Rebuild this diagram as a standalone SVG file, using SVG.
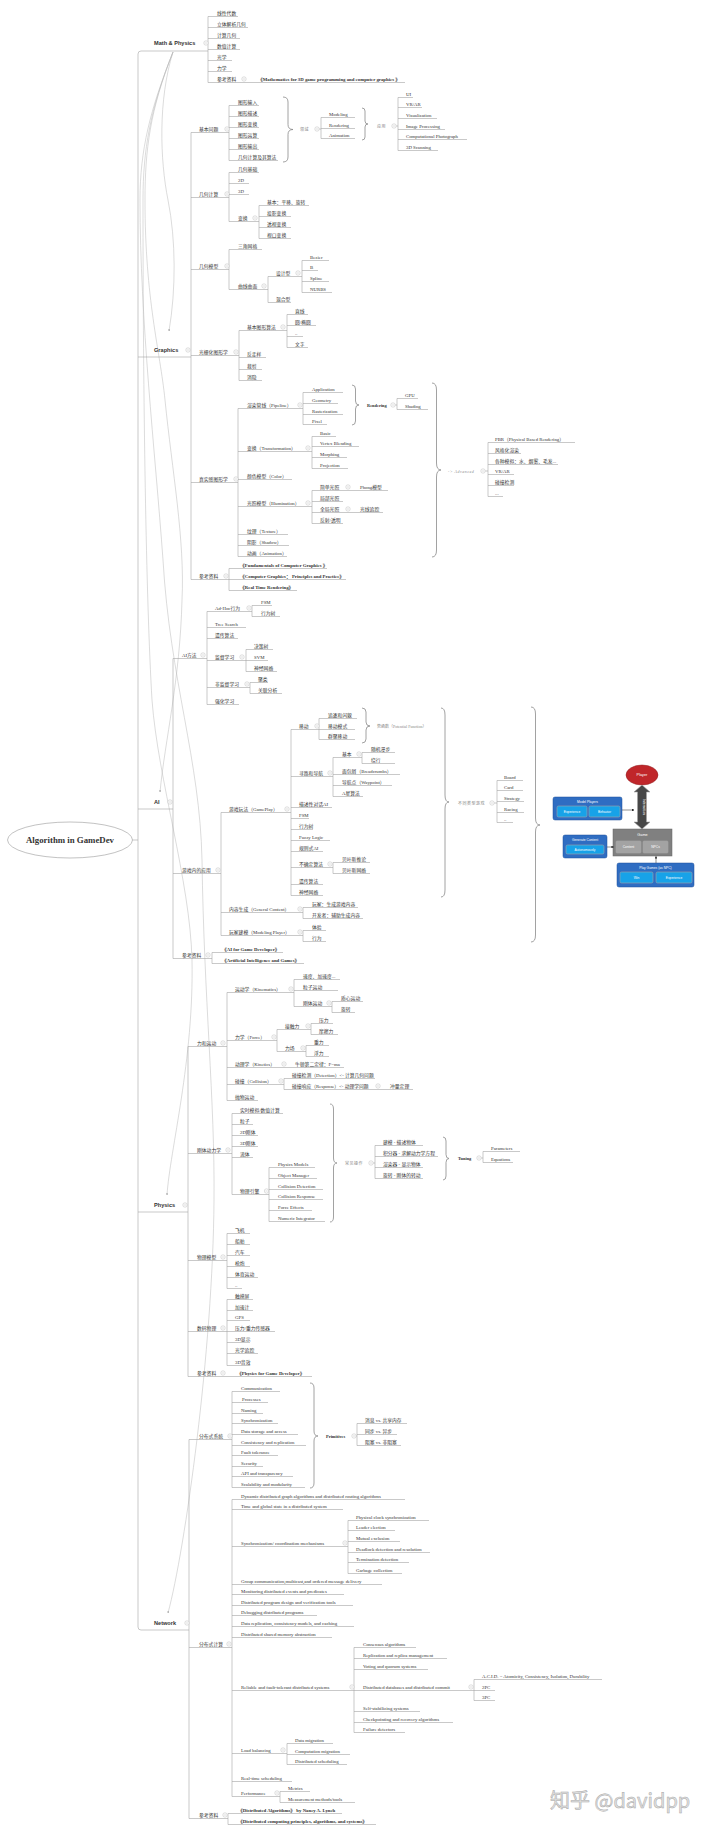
<svg xmlns="http://www.w3.org/2000/svg" xmlns:xlink="http://www.w3.org/1999/xlink" width="720" height="1833" viewBox="0 0 720 1833">
<style>
.l{fill:none;stroke:#a5a5a5;stroke-width:.6}
.br{fill:none;stroke:#8a8a8a;stroke-width:.8}
.rel{fill:none;stroke:#b8b8b8;stroke-width:.5}
text{font-family:"Liberation Serif","Noto Sans CJK SC",serif;font-size:4.8px;fill:#333;stroke:none}
.m{font-family:"Liberation Sans","Noto Sans CJK SC",sans-serif;font-weight:bold;font-size:5.6px;fill:#333}
.k{font-weight:bold}
.s{fill:#888;font-size:4px;letter-spacing:.5px}
.d{font-weight:bold;font-size:4.4px}
.w{font-family:"Liberation Sans",sans-serif;fill:#fff;font-size:3.3px;text-anchor:middle}
.bx{fill:#2f6dc2;stroke:#1d4f98;stroke-width:.5}
.ib{fill:#17a2e8}
.gb{fill:#a3a3a3}
</style>
<defs>
<g id="c"><circle r="2.2" fill="#fff" stroke="#bdbdbd" stroke-width=".5"/><path d="M-1.1,0H1.1" stroke="#bdbdbd" stroke-width=".5"/></g>
<marker id="ar" viewBox="0 0 6 6" refX="5" refY="3" markerWidth="4" markerHeight="4" orient="auto"><polygon points="0,0 6,3 0,6" fill="#999"/></marker>
<marker id="ab" viewBox="0 0 6 6" refX="5" refY="3" markerWidth="5" markerHeight="5" orient="auto"><polygon points="0,0 6,3 0,6" fill="#222"/></marker>
</defs>
<rect width="720" height="1833" fill="#fff"/>

<!-- relationship lines -->
<g id="relations" class="rel">
<path d="M173,52 C158,100 160,160 168,200 S176,290 169,331" marker-end="url(#ar)"/>
<path d="M173,52 C150,110 145,150 145,200 C145,300 160,350 165,400 C172,470 185,540 182,600 C180,680 165,740 160,792" marker-end="url(#ar)"/>
<path d="M173,52 C150,110 143,150 143,200 C143,400 146,600 152,700 C158,780 190,880 192,960 C194,1060 170,1150 167,1195" marker-end="url(#ar)"/>
<path d="M173,52 C150,110 140,150 140,200 C140,320 155,450 163,560 C170,680 200,760 202,860 C204,1000 215,1100 214,1200 C213,1350 185,1550 168,1613" marker-end="url(#ar)"/>
</g>

<!-- connectors -->
<g id="connectors" class="l">
<path d="M132,840H138 M141,51Q138,51 138,54V1627Q138,1630 141,1630H189 M141,51H208 M138,357H191 M138,809H173 M138,1212H188"/>
<path d="M208,16.5V82.5"/>
<path d="M191,132.5V579.5 M229,105.5V160.5 M319.2,129H321 M321,117.5V138.5 M396.2,126H398 M398,97.5V150.5 M229,172.5V221.5 M259,205.5V238.5 M229,249.5V289.5 M268,276.5V302.5 M302,260.5V292.5 M239,330.5V380.5 M287,314.5V347.5 M238,408.5V556.5 M303,392.5V424.5 M395.2,405H397 M397,398.5V409.5 M312,436.5V468.5 M312,490.5V523.5 M485.2,471H488 M488,442.5V496.5 M229,568.5V590.5"/>
<path d="M173,658.5V958.5 M207,611.5V704.5 M252,605.5V616.5 M246,649.5V671.5 M250,682.5V693.5 M221,812.5V935.5 M291,729.5V895.5 M319,718.5V739.5 M333,757.5V796.5 M362,752.5V763.5 M333,862.5V873.5 M303,907.5V918.5 M303,930.5V941.5 M494.2,803H497 M497,780.5V822.5 M212,952.5V963.5"/>
<path d="M188,1046.5V1376.5 M227,992.5V1100.5 M294,979.5V1006.5 M332,1001.5V1012.5 M277,1029.5V1051.5 M311,1023.5V1034.5 M306,1045.5V1056.5 M284,1078.5V1089.5 M232,1113.5V1194.5 M269,1167.5V1221.5 M373.2,1163H375 M375,1145.5V1178.5 M481.2,1158H483 M483,1151.5V1162.5 M227,1233.5V1288.5 M227,1299.5V1365.5"/>
<path d="M189,1439.5V1818.5 M232,1391.5V1487.5 M356.2,1436H357 M357,1423.5V1445.5 M232,1499.5V1796.5 M348,1520.5V1573.5 M354,1647.5V1732.5 M474,1679.5V1700.5 M287,1743.5V1764.5 M280,1791.5V1802.5 M228,1813.5V1824.5"/>
</g>

<!-- braces -->
<g id="braces" class="br">
<path d="M283,97 Q288,97 288,102 V124.5 Q288,129.5 293,129.5 Q288,129.5 288,134.5 V157 Q288,162 283,162"/>
<path d="M362,108 Q365,108 365,111 V121 Q365,124 368,124 Q365,124 365,127 V137 Q365,140 362,140"/>
<path d="M352,385 Q355.5,385 355.5,389 V401 Q355.5,405 359,405 Q355.5,405 355.5,409 V421 Q355.5,425 352,425"/>
<path d="M432,383 Q436.5,383 436.5,390 V463 Q436.5,470 441,470 Q436.5,470 436.5,477 V550 Q436.5,557 432,557"/>
<path d="M362,708 Q366,708 366,712 V722 Q366,726 370,726 Q366,726 366,730 V739 Q366,743 362,743"/>
<path d="M441,708 Q445,708 445,715 V795 Q445,802 449,802 Q445,802 445,809 V890 Q445,897 441,897"/>
<path d="M531,707 Q535.5,707 535.5,714 V818 Q535.5,825 540,825 Q535.5,825 535.5,832 V935 Q535.5,942 531,942"/>
<path d="M330,1104 Q333.5,1104 333.5,1109 V1158 Q333.5,1163 337,1163 Q333.5,1163 333.5,1168 V1217 Q333.5,1222 330,1222"/>
<path d="M443,1137 Q446,1137 446,1141 V1154.5 Q446,1158.5 449,1158.5 Q446,1158.5 446,1162.5 V1176 Q446,1180 443,1180"/>
<path d="M310,1383 Q314,1383 314,1388 V1431 Q314,1436 318,1436 Q314,1436 314,1441 V1483 Q314,1488 310,1488"/>
</g>

<g id="nodes" class="l">
<g id="root"><ellipse cx="70" cy="840" rx="62.5" ry="18" fill="#fff" stroke="#999" stroke-width=".6"/><text x="70" y="843" text-anchor="middle" style="font-weight:bold;font-size:8.5px" textLength="88" lengthAdjust="spacingAndGlyphs">Algorithm in GameDev</text></g>

<!-- Math & Physics -->
<g id="math"><text class="m" x="154" y="45">Math &amp; Physics</text><use href="#c" x="206" y="43"/></g>
<g id="mp1"><text x="217" y="14.7">线性代数</text><path d="M208,16.5H238"/></g>
<g id="mp2"><text x="217" y="25.7">立体解析几何</text><path d="M208,27.5H248"/></g>
<g id="mp3"><text x="217" y="36.7">计算几何</text><path d="M208,38.5H240"/></g>
<g id="mp4"><text x="217" y="47.7">数值计算</text><path d="M208,49.5H240"/></g>
<g id="mp5"><text x="217" y="58.7">光学</text><path d="M208,60.5H232"/></g>
<g id="mp6"><text x="217" y="69.7">力学</text><path d="M208,71.5H232"/></g>
<g id="mp7"><text x="217" y="80.7">参考资料</text><path d="M208,82.5H253"/><use href="#c" x="244" y="79"/></g>
<g id="mp7a"><text class="k" x="258" y="80.7">《Mathematics for 3D game programming and computer graphics 》</text><path d="M253,82.5H405"/></g>

<!-- Graphics -->
<g id="graphics"><text class="m" x="154" y="352">Graphics</text><use href="#c" x="188" y="350"/></g>
<g id="g1"><text x="199" y="130.7">基本问题</text><path d="M191,132.5H229"/><use href="#c" x="227" y="129"/></g>
<g id="g1a"><text x="238" y="103.7">图形输入</text><path d="M229,105.5H259"/></g>
<g id="g1b"><text x="238" y="114.7">图形描述</text><path d="M229,116.5H259"/></g>
<g id="g1c"><text x="238" y="125.7">图形变换</text><path d="M229,127.5H259"/></g>
<g id="g1d"><text x="238" y="136.7">图形运算</text><path d="M229,138.5H259"/></g>
<g id="g1e"><text x="238" y="147.7">图形输出</text><path d="M229,149.5H259"/></g>
<g id="g1f"><text x="238" y="158.7">几何计算及其算法</text><path d="M229,160.5H278"/></g>
<g id="g1s"><text class="s" x="300" y="130.5">领域</text><use href="#c" x="317" y="129"/></g>
<g id="g1s1"><text x="329" y="115.7">Modeling</text><path d="M321,117.5H355"/></g>
<g id="g1s2"><text x="329" y="126.7">Rendering</text><path d="M321,128.5H355"/></g>
<g id="g1s3"><text x="329" y="136.7">Animation</text><path d="M321,138.5H355"/></g>
<g id="g1t"><text class="s" x="377" y="127.5">应用</text><use href="#c" x="394" y="126"/></g>
<g id="g1t1"><text x="406" y="95.7">UI</text><path d="M398,97.5H413"/></g>
<g id="g1t2"><text x="406" y="105.7">VR/AR</text><path d="M398,107.5H422"/></g>
<g id="g1t3"><text x="406" y="116.7">Visualization</text><path d="M398,118.5H437"/></g>
<g id="g1t4"><text x="406" y="127.7">Image Processing</text><path d="M398,129.5H445"/></g>
<g id="g1t5"><text x="406" y="137.7">Computational Photograph</text><path d="M398,139.5H467"/></g>
<g id="g1t6"><text x="406" y="148.7">3D Scanning</text><path d="M398,150.5H438"/></g>

<g id="g2"><text x="199" y="195.7">几何计算</text><path d="M191,197.5H229"/><use href="#c" x="227" y="194"/></g>
<g id="g2a"><text x="238" y="170.7">几何基础</text><path d="M229,172.5H259"/></g>
<g id="g2b"><text x="238" y="181.7">2D</text><path d="M229,183.5H249"/></g>
<g id="g2c"><text x="238" y="192.7">3D</text><path d="M229,194.5H249"/></g>
<g id="g2d"><text x="238" y="219.7">变换</text><path d="M229,221.5H259"/><use href="#c" x="255" y="218"/></g>
<g id="g2d1"><text x="267" y="203.7">基本：平移、旋转</text><path d="M259,205.5H309"/></g>
<g id="g2d2"><text x="267" y="214.7">投影变换</text><path d="M259,216.5H291"/></g>
<g id="g2d3"><text x="267" y="225.7">透视变换</text><path d="M259,227.5H291"/></g>
<g id="g2d4"><text x="267" y="236.7">视口变换</text><path d="M259,238.5H291"/></g>

<g id="g3"><text x="199" y="267.7">几何模型</text><path d="M191,269.5H229"/><use href="#c" x="227" y="266"/></g>
<g id="g3a"><text x="238" y="247.7">三角网格</text><path d="M229,249.5H262"/></g>
<g id="g3b"><text x="238" y="287.7">曲线曲面</text><path d="M229,289.5H268"/><use href="#c" x="264" y="286"/></g>
<g id="g3b1"><text x="276" y="274.7">设计型</text><path d="M268,276.5H302"/><use href="#c" x="298" y="273"/></g>
<g id="g3b1a"><text x="310" y="258.7">Bezier</text><path d="M302,260.5H329"/></g>
<g id="g3b1b"><text x="310" y="268.7">B</text><path d="M302,270.5H318"/></g>
<g id="g3b1c"><text x="310" y="279.7">Spline</text><path d="M302,281.5H329"/></g>
<g id="g3b1d"><text x="310" y="290.7">NURBS</text><path d="M302,292.5H332"/></g>
<g id="g3b2"><text x="276" y="300.7">混合型</text><path d="M268,302.5H291"/></g>

<g id="g4"><text x="199" y="353.7">光栅化图形学</text><path d="M191,355.5H239"/><use href="#c" x="236" y="352"/></g>
<g id="g4a"><text x="247" y="328.7">基本图形算法</text><path d="M239,330.5H287"/><use href="#c" x="283" y="327"/></g>
<g id="g4a1"><text x="295" y="312.7">直线</text><path d="M287,314.5H308"/></g>
<g id="g4a2"><text x="295" y="323.7">圆/椭圆</text><path d="M287,325.5H316"/></g>
<g id="g4a3"><text x="295" y="334.7">..</text><path d="M287,336.5H303"/></g>
<g id="g4a4"><text x="295" y="345.7">文字</text><path d="M287,347.5H308"/></g>
<g id="g4b"><text x="247" y="355.7">反走样</text><path d="M239,357.5H266"/></g>
<g id="g4c"><text x="247" y="367.7">裁剪</text><path d="M239,369.5H262"/></g>
<g id="g4d"><text x="247" y="378.7">消隐</text><path d="M239,380.5H262"/></g>

<g id="g5"><text x="199" y="480.7">真实感图形学</text><path d="M191,482.5H238"/><use href="#c" x="236" y="479"/></g>
<g id="g5a"><text x="247" y="406.7">渲染管线（Pipeline）</text><path d="M238,408.5H303"/><use href="#c" x="300" y="405"/></g>
<g id="g5a1"><text x="312" y="390.7">Application</text><path d="M303,392.5H343"/></g>
<g id="g5a2"><text x="312" y="401.7">Geometry</text><path d="M303,403.5H338"/></g>
<g id="g5a3"><text x="312" y="412.7">Rasterization</text><path d="M303,414.5H343"/></g>
<g id="g5a4"><text x="312" y="422.7">Pixel</text><path d="M303,424.5H327"/></g>
<g id="g5r"><text class="d" x="367" y="406.5">Rendering</text><use href="#c" x="393" y="405"/></g>
<g id="g5r1"><text x="405" y="396.7">GPU</text><path d="M397,398.5H418"/></g>
<g id="g5r2"><text x="405" y="407.7">Shading</text><path d="M397,409.5H428"/></g>
<g id="g5b"><text x="247" y="449.7">变换（Transformation）</text><path d="M238,451.5H312"/><use href="#c" x="308" y="448"/></g>
<g id="g5b1"><text x="320" y="434.7">Basic</text><path d="M312,436.5H336"/></g>
<g id="g5b2"><text x="320" y="444.7">Vertex Blending</text><path d="M312,446.5H359"/></g>
<g id="g5b3"><text x="320" y="455.7">Morphing</text><path d="M312,457.5H347"/></g>
<g id="g5b4"><text x="320" y="466.7">Projection</text><path d="M312,468.5H348"/></g>
<g id="g5c"><text x="247" y="477.7">颜色模型（Color）</text><path d="M238,479.5H292"/></g>
<g id="g5d"><text x="247" y="504.7">光照模型（Illumination）</text><path d="M238,506.5H312"/><use href="#c" x="308" y="503"/></g>
<g id="g5d1"><text x="320" y="488.7">简单光照</text><path d="M312,490.5H352"/><use href="#c" x="348" y="487"/></g>
<g id="g5d1a"><text x="360" y="488.7">Phong模型</text><path d="M352,490.5H388"/></g>
<g id="g5d2"><text x="320" y="499.7">局部光照</text><path d="M312,501.5H343"/></g>
<g id="g5d3"><text x="320" y="510.7">全局光照</text><path d="M312,512.5H352"/><use href="#c" x="348" y="509"/></g>
<g id="g5d3a"><text x="360" y="510.7">光线追踪</text><path d="M352,512.5H383"/></g>
<g id="g5d4"><text x="320" y="521.7">反射/透明</text><path d="M312,523.5H343"/></g>
<g id="g5e"><text x="247" y="532.7">纹理（Texture）</text><path d="M238,534.5H288"/></g>
<g id="g5f"><text x="247" y="543.7">阴影（Shadow）</text><path d="M238,545.5H289"/></g>
<g id="g5g"><text x="247" y="554.7">动画（Animation）</text><path d="M238,556.5H287"/></g>
<g id="g5adv"><text class="s" x="448" y="472.5" style="font-style:italic">-&gt; Advanced</text><use href="#c" x="483" y="471"/></g>
<g id="g5adv1"><text x="495" y="440.7">PBR（Physical Based Rendering）</text><path d="M488,442.5H575"/></g>
<g id="g5adv2"><text x="495" y="451.7">风格化渲染</text><path d="M488,453.5H521"/></g>
<g id="g5adv3"><text x="495" y="462.7">各种模拟：水、烟雾、毛发...</text><path d="M488,464.5H558"/></g>
<g id="g5adv4"><text x="495" y="472.7">VR/AR</text><path d="M488,474.5H514"/></g>
<g id="g5adv5"><text x="495" y="483.7">碰撞检测</text><path d="M488,485.5H514"/></g>
<g id="g5adv6"><text x="495" y="494.7">...</text><path d="M488,496.5H503"/></g>

<g id="g6"><text x="199" y="577.7">参考资料</text><path d="M191,579.5H229"/><use href="#c" x="226" y="576"/></g>
<g id="g6a"><text class="k" x="240" y="566.7">《Fundamentals of Computer Graphics 》</text><path d="M229,568.5H327"/></g>
<g id="g6b"><text class="k" x="240" y="577.7">《Computer Graphics： Principles and Practice》</text><path d="M229,579.5H346"/></g>
<g id="g6c"><text class="k" x="240" y="588.7">《Real Time Rendering》</text><path d="M229,590.5H297"/></g>

<!-- AI -->
<g id="ai"><text class="m" x="154" y="804">AI</text><use href="#c" x="170" y="802"/></g>
<g id="a1"><text x="182" y="656.7">AI方法</text><path d="M173,658.5H207"/><use href="#c" x="203" y="655"/></g>
<g id="a1a"><text x="215" y="609.7">Ad-Hoc行为</text><path d="M207,611.5H252"/><use href="#c" x="249" y="608"/></g>
<g id="a1a1"><text x="261" y="603.7">FSM</text><path d="M252,605.5H272"/></g>
<g id="a1a2"><text x="261" y="614.7">行为树</text><path d="M252,616.5H280"/></g>
<g id="a1b"><text x="215" y="625.7">Tree Search</text><path d="M207,627.5H246"/></g>
<g id="a1c"><text x="215" y="636.7">遗传算法</text><path d="M207,638.5H238"/></g>
<g id="a1d"><text x="215" y="658.7">监督学习</text><path d="M207,660.5H246"/><use href="#c" x="242" y="657"/></g>
<g id="a1d1"><text x="254" y="647.7">决策树</text><path d="M246,649.5H273"/></g>
<g id="a1d2"><text x="254" y="658.7">SVM</text><path d="M246,660.5H268"/></g>
<g id="a1d3"><text x="254" y="669.7">神经网络</text><path d="M246,671.5H277"/></g>
<g id="a1e"><text x="215" y="685.7">非监督学习</text><path d="M207,687.5H250"/><use href="#c" x="247" y="684"/></g>
<g id="a1e1"><text x="258" y="680.7">聚类</text><path d="M250,682.5H268"/></g>
<g id="a1e2"><text x="258" y="691.7">关联分析</text><path d="M250,693.5H282"/></g>
<g id="a1f"><text x="215" y="702.7">强化学习</text><path d="M207,704.5H239"/></g>

<g id="a2"><text x="182" y="871.7">游戏内的应用</text><path d="M173,873.5H221"/><use href="#c" x="218" y="870"/></g>
<g id="a2a"><text x="229" y="810.7">游戏玩法（GamePlay）</text><path d="M221,812.5H291"/><use href="#c" x="287" y="809"/></g>
<g id="a2a1"><text x="299" y="727.7">移动</text><path d="M291,729.5H319"/><use href="#c" x="317" y="726"/></g>
<g id="a2a1a"><text x="328" y="716.7">追逐和闪躲</text><path d="M319,718.5H357"/></g>
<g id="a2a1b"><text x="328" y="727.7">移动模式</text><path d="M319,729.5H355"/></g>
<g id="a2a1c"><text x="328" y="737.7">群聚移动</text><path d="M319,739.5H355"/></g>
<g id="a2a1s"><text class="s" x="377" y="727.5" style="letter-spacing:0">势函数（Potential Function）</text></g>
<g id="a2a2"><text x="299" y="774.7">寻路和导航</text><path d="M291,776.5H333"/><use href="#c" x="330" y="773"/></g>
<g id="a2a2a"><text x="342" y="755.7">基本</text><path d="M333,757.5H362"/><use href="#c" x="359" y="754"/></g>
<g id="a2a2a1"><text x="371" y="750.7">随机漫步</text><path d="M362,752.5H395"/></g>
<g id="a2a2a2"><text x="371" y="761.7">绕行</text><path d="M362,763.5H395"/></g>
<g id="a2a2b"><text x="342" y="772.7">面包屑（Breadcrumbs）</text><path d="M333,774.5H400"/></g>
<g id="a2a2c"><text x="342" y="783.7">导航点（Waypoint）</text><path d="M333,785.5H392"/></g>
<g id="a2a2d"><text x="342" y="794.7">A星算法</text><path d="M333,796.5H363"/></g>
<g id="a2a3"><text x="299" y="805.7">描述性对话AI</text><path d="M291,807.5H332"/></g>
<g id="a2a4"><text x="299" y="816.7">FSM</text><path d="M291,818.5H309"/></g>
<g id="a2a5"><text x="299" y="827.7">行为树</text><path d="M291,829.5H313"/></g>
<g id="a2a6"><text x="299" y="838.7">Fuzzy Logic</text><path d="M291,840.5H330"/></g>
<g id="a2a7"><text x="299" y="849.7">规则式AI</text><path d="M291,851.5H323"/></g>
<g id="a2a8"><text x="299" y="865.7">不确定算法</text><path d="M291,867.5H333"/><use href="#c" x="330" y="864"/></g>
<g id="a2a8a"><text x="342" y="860.7">贝叶斯推论</text><path d="M333,862.5H370"/></g>
<g id="a2a8b"><text x="342" y="871.7">贝叶斯网络</text><path d="M333,873.5H370"/></g>
<g id="a2a9"><text x="299" y="882.7">遗传算法</text><path d="M291,884.5H323"/></g>
<g id="a2a10"><text x="299" y="893.7">神经网络</text><path d="M291,895.5H323"/></g>
<g id="a2b"><text x="229" y="910.7">内容生成（General Content）</text><path d="M221,912.5H303"/><use href="#c" x="300" y="909"/></g>
<g id="a2b1"><text x="312" y="905.7">玩家：生成游戏内容</text><path d="M303,907.5H358"/></g>
<g id="a2b2"><text x="312" y="916.7">开发者：辅助生成内容</text><path d="M303,918.5H363"/></g>
<g id="a2c"><text x="229" y="933.7">玩家建模（Modeling Player）</text><path d="M221,935.5H303"/><use href="#c" x="300" y="932"/></g>
<g id="a2c1"><text x="312" y="928.7">体验</text><path d="M303,930.5H326"/></g>
<g id="a2c2"><text x="312" y="939.7">行为</text><path d="M303,941.5H326"/></g>
<g id="a2s"><text class="s" x="458" y="804.5">不同类型游戏</text><use href="#c" x="492" y="803"/></g>
<g id="a2s1"><text x="504" y="778.7">Board</text><path d="M497,780.5H523"/></g>
<g id="a2s2"><text x="504" y="788.7">Card</text><path d="M497,790.5H523"/></g>
<g id="a2s3"><text x="504" y="799.7">Strategy</text><path d="M497,801.5H524"/></g>
<g id="a2s4"><text x="504" y="810.7">Racing</text><path d="M497,812.5H524"/></g>
<g id="a2s5"><text x="504" y="820.7">..</text><path d="M497,822.5H513"/></g>
<g id="a3"><text x="182" y="956.7">参考资料</text><path d="M173,958.5H212"/><use href="#c" x="208" y="955"/></g>
<g id="a3a"><text class="k" x="222" y="950.7">《AI for Game Developer》</text><path d="M212,952.5H283"/></g>
<g id="a3b"><text class="k" x="222" y="961.7">《Artificial Intelligence and Games》</text><path d="M212,963.5H304"/></g>

<!-- Game figure -->
<g id="gamefig">
<ellipse cx="642" cy="775" rx="16" ry="10" fill="#c0262a" stroke="#8e1a1d" stroke-width=".5"/>
<text class="w" x="642" y="776.3" style="font-size:3.8px">Player</text>
<polygon points="642,785 650,792 646.5,792 646.5,822 650,822 642,829 634,822 637.5,822 637.5,792 634,792" fill="#474747"/>
<text class="w" transform="translate(643.2,807) rotate(90)" style="font-size:3.4px">Interaction</text>
<rect class="bx" x="553" y="797" width="69" height="23" rx="2"/>
<text class="w" x="587.5" y="803">Model Players</text>
<rect class="ib" x="557" y="806" width="30" height="11" rx="1.5"/>
<text class="w" x="572" y="812.5">Experience</text>
<rect class="ib" x="589" y="806" width="31" height="11" rx="1.5"/>
<text class="w" x="604.5" y="812.5">Behavior</text>
<line x1="622" y1="810" x2="634" y2="810" stroke="#222" stroke-width=".5" marker-end="url(#ab)"/>
<rect x="613" y="829" width="59" height="27" fill="#808080" stroke="#666" stroke-width=".5"/>
<text class="w" x="642.5" y="836" style="font-size:3.8px">Game</text>
<rect class="gb" x="616" y="841" width="25" height="12" rx="1"/>
<text class="w" x="628.5" y="848">Content</text>
<rect class="gb" x="643" y="841" width="25" height="12" rx="1"/>
<text class="w" x="655.5" y="848">NPCs</text>
<rect class="bx" x="563" y="835" width="44" height="23" rx="2"/>
<text class="w" x="585" y="841">Generate Content</text>
<rect class="ib" x="566" y="845" width="38" height="9" rx="1.5"/>
<text class="w" x="585" y="850.7">Autonomously</text>
<line x1="607" y1="847" x2="613.5" y2="847" stroke="#222" stroke-width=".5" marker-end="url(#ab)"/>
<rect class="bx" x="617" y="863" width="77" height="24" rx="2"/>
<text class="w" x="655.5" y="869">Play Games (as NPC)</text>
<rect class="ib" x="620" y="872" width="33" height="11" rx="1.5"/>
<text class="w" x="636.5" y="878.5">Win</text>
<rect class="ib" x="656" y="872" width="36" height="11" rx="1.5"/>
<text class="w" x="674" y="878.5">Experience</text>
<line x1="656" y1="863" x2="656" y2="856.5" stroke="#222" stroke-width=".5" marker-end="url(#ab)"/>
</g>

<!-- Physics -->
<g id="physics"><text class="m" x="154" y="1207">Physics</text><use href="#c" x="185" y="1205"/></g>
<g id="p1"><text x="197" y="1044.7">力和运动</text><path d="M188,1046.5H227"/><use href="#c" x="223" y="1043"/></g>
<g id="p1a"><text x="235" y="990.7">运动学（Kinematics）</text><path d="M227,992.5H294"/><use href="#c" x="291" y="989"/></g>
<g id="p1a1"><text x="303" y="977.7">速度、加速度...</text><path d="M294,979.5H340"/></g>
<g id="p1a2"><text x="303" y="988.7">粒子运动</text><path d="M294,990.5H338"/></g>
<g id="p1a3"><text x="303" y="1004.7">刚体运动</text><path d="M294,1006.5H332"/><use href="#c" x="329" y="1003"/></g>
<g id="p1a3a"><text x="341" y="999.7">质心运动</text><path d="M332,1001.5H363"/></g>
<g id="p1a3b"><text x="341" y="1010.7">旋转</text><path d="M332,1012.5H355"/></g>
<g id="p1b"><text x="235" y="1038.7">力学（Force）</text><path d="M227,1040.5H277"/><use href="#c" x="274" y="1037"/></g>
<g id="p1b1"><text x="285" y="1027.7">接触力</text><path d="M277,1029.5H311"/><use href="#c" x="308" y="1026"/></g>
<g id="p1b1a"><text x="319" y="1021.7">压力</text><path d="M311,1023.5H333"/></g>
<g id="p1b1b"><text x="319" y="1032.7">摩擦力</text><path d="M311,1034.5H338"/></g>
<g id="p1b2"><text x="285" y="1049.7">力场</text><path d="M277,1051.5H306"/><use href="#c" x="303" y="1048"/></g>
<g id="p1b2a"><text x="314" y="1043.7">重力</text><path d="M306,1045.5H329"/></g>
<g id="p1b2b"><text x="314" y="1054.7">浮力</text><path d="M306,1056.5H329"/></g>
<g id="p1c"><text x="235" y="1065.7">动理学（Kinetics）</text><path d="M227,1067.5H287"/><use href="#c" x="284" y="1064"/></g>
<g id="p1c1"><text x="295" y="1065.7">牛顿第二定律：F=ma</text><path d="M287,1067.5H344"/></g>
<g id="p1d"><text x="235" y="1082.7">碰撞（Collision）</text><path d="M227,1084.5H284"/><use href="#c" x="281" y="1081"/></g>
<g id="p1d1"><text x="292" y="1076.7">碰撞检测（Detection）&lt;- 计算几何问题</text><path d="M284,1078.5H375"/></g>
<g id="p1d2"><text x="292" y="1087.7">碰撞响应（Response）&lt;- 动理学问题</text><path d="M284,1089.5H381"/><use href="#c" x="378" y="1086"/></g>
<g id="p1d2a"><text x="390" y="1087.7">冲量定理</text><path d="M381,1089.5H413"/></g>
<g id="p1e"><text x="235" y="1098.7">抛物运动</text><path d="M227,1100.5H258"/></g>

<g id="p2"><text x="197" y="1151.7">刚体动力学</text><path d="M188,1153.5H232"/><use href="#c" x="228" y="1150"/></g>
<g id="p2a"><text x="240" y="1111.7">实时模拟/数值计算</text><path d="M232,1113.5H283"/></g>
<g id="p2b"><text x="240" y="1122.7">粒子</text><path d="M232,1124.5H253"/></g>
<g id="p2c"><text x="240" y="1133.7">2D刚体</text><path d="M232,1135.5H258"/></g>
<g id="p2d"><text x="240" y="1144.7">3D刚体</text><path d="M232,1146.5H258"/></g>
<g id="p2e"><text x="240" y="1155.7">流体</text><path d="M232,1157.5H253"/></g>
<g id="p2f"><text x="240" y="1192.7">物理引擎</text><path d="M232,1194.5H269"/><use href="#c" x="266.5" y="1191"/></g>
<g id="p2f1"><text x="278" y="1165.7">Physics Models</text><path d="M269,1167.5H315"/></g>
<g id="p2f2"><text x="278" y="1176.7">Object Manager</text><path d="M269,1178.5H317"/></g>
<g id="p2f3"><text x="278" y="1187.7">Collision Detection</text><path d="M269,1189.5H323"/></g>
<g id="p2f4"><text x="278" y="1197.7">Collision Response</text><path d="M269,1199.5H323"/></g>
<g id="p2f5"><text x="278" y="1208.7">Force Effects</text><path d="M269,1210.5H312"/></g>
<g id="p2f6"><text x="278" y="1219.7">Numeric Integrator</text><path d="M269,1221.5H325"/></g>
<g id="p2s"><text class="s" x="345" y="1164.5">常见操作</text><use href="#c" x="371" y="1163"/></g>
<g id="p2s1"><text x="383" y="1143.7">建模 - 描述物体</text><path d="M375,1145.5H423"/></g>
<g id="p2s2"><text x="383" y="1154.7">积分器 - 求解动力学方程</text><path d="M375,1156.5H438"/></g>
<g id="p2s3"><text x="383" y="1165.7">渲染器 - 显示物体</text><path d="M375,1167.5H423"/></g>
<g id="p2s4"><text x="383" y="1176.7">旋转 - 刚体的转动</text><path d="M375,1178.5H423"/></g>
<g id="p2t"><text class="d" x="458" y="1159.5">Tuning</text><use href="#c" x="479" y="1158"/></g>
<g id="p2t1"><text x="491" y="1149.7">Parameters</text><path d="M483,1151.5H520"/></g>
<g id="p2t2"><text x="491" y="1160.7">Equations</text><path d="M483,1162.5H513"/></g>

<g id="p3"><text x="197" y="1258.7">物理模型</text><path d="M188,1260.5H227"/><use href="#c" x="223" y="1257"/></g>
<g id="p3a"><text x="235" y="1231.7">飞机</text><path d="M227,1233.5H250"/></g>
<g id="p3b"><text x="235" y="1242.7">船舶</text><path d="M227,1244.5H250"/></g>
<g id="p3c"><text x="235" y="1253.7">汽车</text><path d="M227,1255.5H250"/></g>
<g id="p3d"><text x="235" y="1264.7">枪炮</text><path d="M227,1266.5H250"/></g>
<g id="p3e"><text x="235" y="1275.7">体育运动</text><path d="M227,1277.5H258"/></g>
<g id="p3f"><text x="235" y="1286.7">..</text><path d="M227,1288.5H242"/></g>

<g id="p4"><text x="197" y="1329.7">数码物理</text><path d="M188,1331.5H227"/><use href="#c" x="223" y="1328"/></g>
<g id="p4a"><text x="235" y="1297.7">触摸屏</text><path d="M227,1299.5H253"/></g>
<g id="p4b"><text x="235" y="1308.7">加速计</text><path d="M227,1310.5H253"/></g>
<g id="p4c"><text x="235" y="1318.7">GPS</text><path d="M227,1320.5H250"/></g>
<g id="p4d"><text x="235" y="1329.7">压力/重力传感器</text><path d="M227,1331.5H275"/></g>
<g id="p4e"><text x="235" y="1340.7">3D显示</text><path d="M227,1342.5H250"/></g>
<g id="p4f"><text x="235" y="1351.7">光学追踪</text><path d="M227,1353.5H258"/></g>
<g id="p4g"><text x="235" y="1363.7">3D音效</text><path d="M227,1365.5H250"/></g>
<g id="p5"><text x="197" y="1374.7">参考资料</text><path d="M188,1376.5H227"/><use href="#c" x="223" y="1373"/></g>
<g id="p5a"><text class="k" x="237" y="1374.7">《Physics for Game Developer》</text><path d="M227,1376.5H312"/></g>

<!-- Network -->
<g id="network"><text class="m" x="154" y="1625">Network</text><use href="#c" x="187" y="1623"/></g>
<g id="w1"><text x="199" y="1437.7">分布式系统</text><path d="M189,1439.5H232"/><use href="#c" x="230" y="1436"/></g>
<g id="w1a"><text x="241" y="1389.7">Communication</text><path d="M232,1391.5H280"/></g>
<g id="w1b"><text x="242" y="1400.7">Processes</text><path d="M232,1402.5H268"/></g>
<g id="w1c"><text x="241" y="1411.7">Naming</text><path d="M232,1413.5H263"/></g>
<g id="w1d"><text x="241" y="1421.7">Synchronization</text><path d="M232,1423.5H278"/></g>
<g id="w1e"><text x="241" y="1432.7">Data storage and access</text><path d="M232,1434.5H298"/></g>
<g id="w1f"><text x="241" y="1443.7">Consistency and replication</text><path d="M232,1445.5H306"/></g>
<g id="w1g"><text x="241" y="1453.7">Fault tolerance</text><path d="M232,1455.5H278"/></g>
<g id="w1h"><text x="241" y="1464.7">Security</text><path d="M232,1466.5H263"/></g>
<g id="w1i"><text x="241" y="1474.7">API and transparency</text><path d="M232,1476.5H293"/></g>
<g id="w1j"><text x="241" y="1485.7">Scalability and modularity</text><path d="M232,1487.5H305"/></g>
<g id="w1p"><text class="d" x="326" y="1437.5">Primitives</text><use href="#c" x="354" y="1436"/></g>
<g id="w1p1"><text x="365" y="1421.7">消息 vs. 共享内存</text><path d="M357,1423.5H407"/></g>
<g id="w1p2"><text x="365" y="1432.7">同步 vs. 异步</text><path d="M357,1434.5H397"/></g>
<g id="w1p3"><text x="365" y="1443.7">阻塞 vs. 非阻塞</text><path d="M357,1445.5H401"/></g>

<g id="w2"><text x="199" y="1645.7">分布式计算</text><path d="M189,1647.5H232"/><use href="#c" x="229" y="1644"/></g>
<g id="w2a"><text x="241" y="1497.7">Dynamic distributed graph algorithms and distributed routing algorithms</text><path d="M232,1499.5H405"/></g>
<g id="w2b"><text x="241" y="1507.7">Time and global state in a distributed system</text><path d="M232,1509.5H343"/></g>
<g id="w2c"><text x="241" y="1544.7">Synchronization/ coordination mechanisms</text><path d="M232,1546.5H348"/><use href="#c" x="345" y="1543"/></g>
<g id="w2c1"><text x="356" y="1518.7">Physical clock synchronization</text><path d="M348,1520.5H429"/></g>
<g id="w2c2"><text x="356" y="1528.7">Leader election</text><path d="M348,1530.5H395"/></g>
<g id="w2c3"><text x="356" y="1539.7">Mutual exclusion</text><path d="M348,1541.5H400"/></g>
<g id="w2c4"><text x="356" y="1550.7">Deadlock detection and resolution</text><path d="M348,1552.5H430"/></g>
<g id="w2c5"><text x="356" y="1560.7">Termination detection</text><path d="M348,1562.5H409"/></g>
<g id="w2c6"><text x="356" y="1571.7">Garbage collection</text><path d="M348,1573.5H402"/></g>
<g id="w2d"><text x="241" y="1582.7">Group communication,multicast,and ordered message delivery</text><path d="M232,1584.5H382"/></g>
<g id="w2e"><text x="241" y="1592.7">Monitoring distributed events and predicates</text><path d="M232,1594.5H344"/></g>
<g id="w2f"><text x="241" y="1603.7">Distributed program design and verification tools</text><path d="M232,1605.5H353"/></g>
<g id="w2g"><text x="241" y="1613.7">Debugging distributed programs</text><path d="M232,1615.5H317"/></g>
<g id="w2h"><text x="241" y="1624.7">Data replication, consistency models, and caching</text><path d="M232,1626.5H354"/></g>
<g id="w2i"><text x="241" y="1635.7">Distributed shared memory abstraction</text><path d="M232,1637.5H332"/></g>
<g id="w2j"><text x="241" y="1688.7">Reliable and fault-tolerant distributed systems</text><path d="M232,1690.5H354"/><use href="#c" x="352" y="1687"/></g>
<g id="w2j1"><text x="363" y="1645.7">Consensus algorithms</text><path d="M354,1647.5H416"/></g>
<g id="w2j2"><text x="363" y="1656.7">Replication and replica management</text><path d="M354,1658.5H447"/></g>
<g id="w2j3"><text x="363" y="1667.7">Voting and quorum systems</text><path d="M354,1669.5H428"/></g>
<g id="w2j4"><text x="363" y="1688.7">Distributed databases and distributed commit</text><path d="M354,1690.5H474"/><use href="#c" x="471" y="1687"/></g>
<g id="w2j4a"><text x="482" y="1677.7">A.C.I.D. = Atomicity, Consistency, Isolation, Durability</text><path d="M474,1679.5H602"/></g>
<g id="w2j4b"><text x="482" y="1688.7">2PC</text><path d="M474,1690.5H495"/></g>
<g id="w2j4c"><text x="482" y="1698.7">3PC</text><path d="M474,1700.5H495"/></g>
<g id="w2j5"><text x="363" y="1709.7">Self-stabilizing systems</text><path d="M354,1711.5H420"/></g>
<g id="w2j6"><text x="363" y="1720.7">Checkpointing and recovery algorithms</text><path d="M354,1722.5H453"/></g>
<g id="w2j7"><text x="363" y="1730.7">Failure detectors</text><path d="M354,1732.5H405"/></g>
<g id="w2k"><text x="241" y="1751.7">Load balancing</text><path d="M232,1753.5H287"/><use href="#c" x="283" y="1750"/></g>
<g id="w2k1"><text x="295" y="1741.7">Data migration</text><path d="M287,1743.5H333"/></g>
<g id="w2k2"><text x="295" y="1752.7">Computation migration</text><path d="M287,1754.5H350"/></g>
<g id="w2k3"><text x="295" y="1762.7">Distributed scheduling</text><path d="M287,1764.5H347"/></g>
<g id="w2l"><text x="241" y="1779.7">Real-time scheduling</text><path d="M232,1781.5H292"/></g>
<g id="w2m"><text x="241" y="1794.7">Performance</text><path d="M232,1796.5H280"/><use href="#c" x="277" y="1793"/></g>
<g id="w2m1"><text x="288" y="1789.7">Metrics</text><path d="M280,1791.5H310"/></g>
<g id="w2m2"><text x="288" y="1800.7">Measurement methods/tools</text><path d="M280,1802.5H355"/></g>
<g id="w3"><text x="199" y="1816.7">参考资料</text><path d="M189,1818.5H228"/><use href="#c" x="225" y="1815"/></g>
<g id="w3a"><text class="k" x="238" y="1811.7">《Distributed Algorithms》 by Nancy A. Lynch</text><path d="M228,1813.5H342"/></g>
<g id="w3b"><text class="k" x="238" y="1822.7">《Distributed computing principles, algorithms, and systems》</text><path d="M228,1824.5H376"/></g>
</g>

<text id="watermark" x="550" y="1808" style="font-family:'Noto Sans CJK SC','Noto Sans',sans-serif;font-size:20px;fill:#e2e2e2;stroke:#a8a8a8;stroke-width:.5">知乎 @davidpp</text>
</svg>
